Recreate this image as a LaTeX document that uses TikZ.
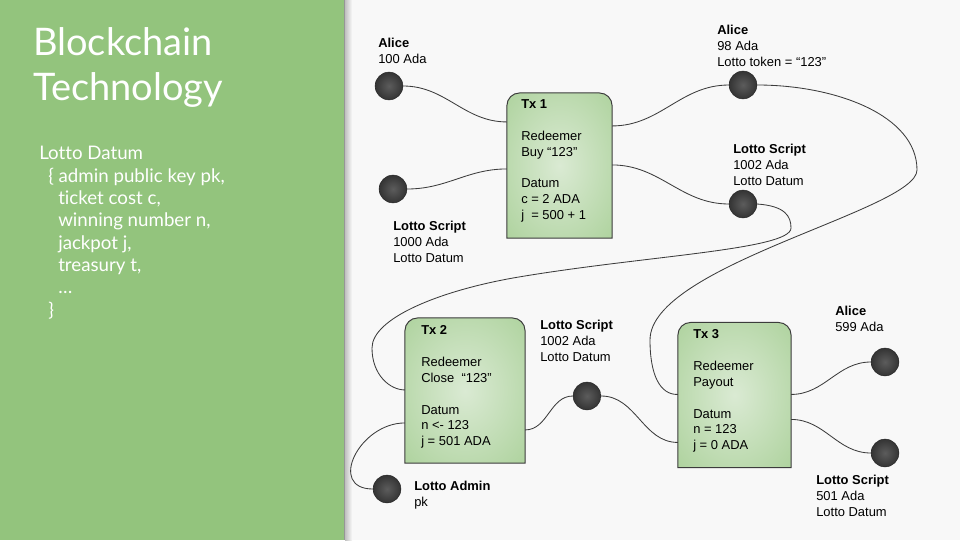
\documentclass[tikz,border=0pt]{standalone}
\usepackage{fontspec}
\setmainfont{Liberation Sans}
\newfontfamily\titlefont[Ligatures=NoCommon]{Lato}
\usepackage{xcolor}
\definecolor{lottoGreen}{RGB}{147, 196, 125}
\definecolor{lottoPale}{RGB}{218, 234, 211}
\definecolor{lottoBack}{RGB}{248, 248, 248}
\definecolor{lottoLine}{RGB}{60, 60, 60}
\definecolor{lottoDot}{RGB}{52, 52, 52}
\definecolor{lottoDotLight}{RGB}{92, 92, 92}
\definecolor{lottoEdge}{RGB}{150, 150, 150}
\pgfdeclareradialshading{txglow}{\pgfpoint{0bp}{0bp}}{color(0bp)=(lottoPale); color(58bp)=(lottoGreen); color(72bp)=(lottoGreen)}

\begin{document}
\begin{tikzpicture}[x=0.025cm, y=-0.025cm,
    utxo/.style={circle, minimum size=19.8pt, inner sep=0pt, draw=lottoDot!70!black, line width=0.3pt, inner color=lottoDotLight, outer color=lottoDot},
    tx/.style={minimum width=#1, minimum height=102.8pt, inner sep=0pt},
    txshape/.style={draw=lottoLine, line width=0.7pt, shading=txglow},
    infotext/.style={anchor=north west, inner sep=0pt, align=left, text=black, font=\fontsize{9.2}{11.34}\selectfont},
    flow/.style={draw=lottoLine, line width=0.6pt}]
    \useasboundingbox (0,0) rectangle (960,540);

    % Background and side panel
    \fill[lottoBack] (0,0) rectangle (960,540);
    \fill[lottoGreen] (0,0) rectangle (344,540);
    \shade[left color=lottoEdge!60, right color=lottoBack] (345,0) rectangle (352,540);
    \draw[lottoEdge, line width=1pt] (344.5,0) -- (344.5,540);

    \node[anchor=north west, inner sep=0pt, align=left, text=white, font=\titlefont\fontsize{27}{32}\selectfont] (title) at (33,27) {Blockchain\\Technology};
    \node[anchor=north west, inner sep=0pt, align=left, text=white, font=\titlefont\fontsize{13.3}{15.9}\selectfont] (datum) at (39,146) {Lotto Datum\\
        \hspace*{6.4pt}\{ admin public key pk,\\
        \hspace*{13.5pt}ticket cost c,\\
        \hspace*{13.5pt}winning number n,\\
        \hspace*{13.5pt}jackpot j,\\
        \hspace*{13.5pt}treasury t,\\
        \hspace*{13.5pt}\dots\\
        \hspace*{6.4pt}\}};

    % Transaction boxes
    \node[tx=74.4pt] (tx1) at (559.5,165.5) {};
    \node[tx=85pt] (tx2) at (465,390.5) {};
    \node[tx=80.1pt] (tx3) at (734.5,395) {};
    \foreach \t in {tx1,tx2,tx3}
        \draw[txshape] (\t.south west) -- ([yshift=-9pt]\t.north west) arc[start angle=180, end angle=90, radius=9pt]
            -- ([xshift=-9pt]\t.north east) arc[start angle=90, end angle=0, radius=9pt] -- (\t.south east) -- cycle;

    \node[infotext] (tx1txt) at (521,99) {\textbf{Tx 1}\\[11.34pt]Redeemer\\Buy “123”\\[11.34pt]Datum\\c = 2 ADA\\j\ \ = 500 + 1};
    \node[infotext] (tx2txt) at (421,325) {\textbf{Tx 2}\\[11.34pt]Redeemer\\Close\ \ “123”\\[11.34pt]Datum\\n <- 123\\j = 501 ADA};
    \node[infotext] (tx3txt) at (693,329) {\textbf{Tx 3}\\[11.34pt]Redeemer\\Payout\\[11.34pt]Datum\\n = 123\\j = 0 ADA};

    % Outputs
    \node[utxo] (ali1) at (389,86) {};
    \node[utxo] (scr1) at (393,189) {};
    \node[utxo] (ali2) at (743,85) {};
    \node[utxo] (scr2) at (743,204) {};
    \node[utxo] (scr3) at (587,396) {};
    \node[utxo] (adm) at (387,489) {};
    \node[utxo] (ali3) at (885,362) {};
    \node[utxo] (scr4) at (885,453) {};

    \node[infotext] (ali1lbl) at (378,38) {\textbf{Alice}\\100 Ada};
    \node[infotext] (scr1lbl) at (393,221) {\textbf{Lotto Script}\\1000 Ada\\Lotto Datum};
    \node[infotext] (ali2lbl) at (717,25) {\textbf{Alice}\\98 Ada\\Lotto token = “123”};
    \node[infotext] (scr2lbl) at (733,144) {\textbf{Lotto Script}\\1002 Ada\\Lotto Datum};
    \node[infotext] (scr3lbl) at (540,320) {\textbf{Lotto Script}\\1002 Ada\\Lotto Datum};
    \node[infotext] (admlbl) at (414,481) {\textbf{Lotto Admin}\\pk};
    \node[infotext] (ali3lbl) at (835,306) {\textbf{Alice}\\599 Ada};
    \node[infotext] (scr4lbl) at (816,475) {\textbf{Lotto Script}\\501 Ada\\Lotto Datum};

    % Connectors
    \draw[flow] (ali1.east) to[out=0, in=180] ([shift={(0,29)}]tx1.north west);
    \draw[flow] (scr1.east) to[out=0, in=180] ([shift={(0,76)}]tx1.north west);
    \draw[flow] ([shift={(0,33)}]tx1.north east) to[out=0, in=180] (ali2.west);
    \draw[flow] ([shift={(0,72)}]tx1.north east) to[out=0, in=180] (scr2.west);
    \draw[flow] (ali2.east) .. controls (835,85) and (917,115) .. (917,170)
        .. controls (917,210) and (650,265) .. (650,340)
        .. controls (650,375) and (660,395) .. ([shift={(0,72)}]tx3.north west);
    \draw[flow] (scr2.east) .. controls (785,206) and (791,216) .. (791,228)
        .. controls (791,250) and (640,256) .. (513,278)
        .. controls (440,291) and (372,318) .. (372,348)
        .. controls (372,375) and (390,390) .. ([shift={(0,72)}]tx2.north west);
    \draw[flow] ([shift={(0,105)}]tx2.north west) to[out=180, in=180, looseness=1.6] (adm.west);
    \draw[flow] ([shift={(0,112)}]tx2.north east) to[out=0, in=180] (scr3.west);
    \draw[flow] (scr3.east) to[out=0, in=180] ([shift={(0,120)}]tx3.north west);
    \draw[flow] ([shift={(0,72)}]tx3.north east) to[out=0, in=180] (ali3.west);
    \draw[flow] ([shift={(0,97)}]tx3.north east) to[out=0, in=180] (scr4.west);
\end{tikzpicture}
\end{document}
